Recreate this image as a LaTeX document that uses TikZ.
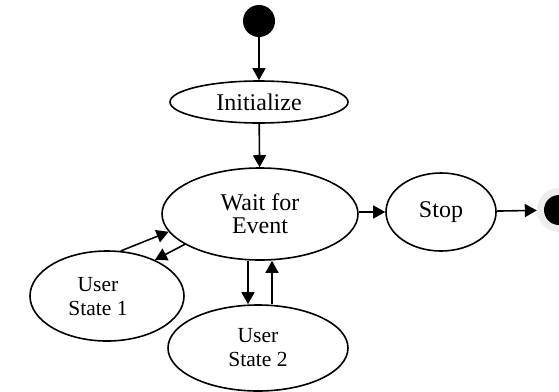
\documentclass[tikz,border=0pt]{standalone}
\usepackage{fontspec}
\setmainfont{Liberation Serif}
\usetikzlibrary{shapes.geometric,arrows.meta}

\tikzset{
  state/.style={draw=black, line width=1.6pt, ellipse, inner sep=0pt, fill=white,
    align=center, font=\fontsize{24}{23}\selectfont},
  userfont/.style={font=\fontsize{21.5}{24}\selectfont},
  userstate/.style={state, userfont},
  caption/.style={align=center, inner sep=0pt, userfont},
  flow/.style={line width=1.6pt, -{Triangle[length=12pt,width=13pt]}},
  startdot/.style={circle, fill=black, inner sep=0pt, minimum size=32pt},
  enddot/.style={circle, fill=black!7, inner sep=0pt, minimum size=44pt,
    path picture={\fill[black] (path picture bounding box.center) circle (15pt);}},
}

\begin{document}
\begin{tikzpicture}[x=1pt, y=-1pt]
  \useasboundingbox (0,0) rectangle (559,391);
  \begin{scope}
    \clip (0,0) rectangle (559,391);

    % states
    \node[startdot] (start) at (259,21) {};
    \node[state, minimum width=178pt, minimum height=42pt] (init) at (259,102) {Initialize};
    \node[state, minimum width=196pt, minimum height=92pt] (wait) at (260,214) {Wait for\\Event};
    \node[state, minimum width=110pt, minimum height=78pt] (stop) at (441,212) {Stop};
    \node[enddot] (final) at (559,210) {};
    \node[state, minimum width=154pt, minimum height=90pt] (us1) at (107,296) {};
    \node[caption] (us1text) at (98,297) {User\\State 1};
    \node[userstate, minimum width=180pt, minimum height=86pt] (us2) at (258,348) {User\\State 2};

    % transitions
    \draw[flow] (start) -- (init);
    \draw[flow] (init) -- (wait);
    \draw[flow] (wait.east |- stop.west) -- (stop.west);
    \draw[flow] (stop) -- (final);
    \draw[flow] (us1.73) -- (wait.191);
    \draw[flow] (wait.202) -- (us1.37);
    \draw[flow] ([xshift=-12pt]wait.south) -- ([xshift=-10pt]us2.north);
    \draw[flow] ([xshift=14pt]us2.north) -- ([xshift=12pt]wait.south);
  \end{scope}
\end{tikzpicture}
\end{document}
